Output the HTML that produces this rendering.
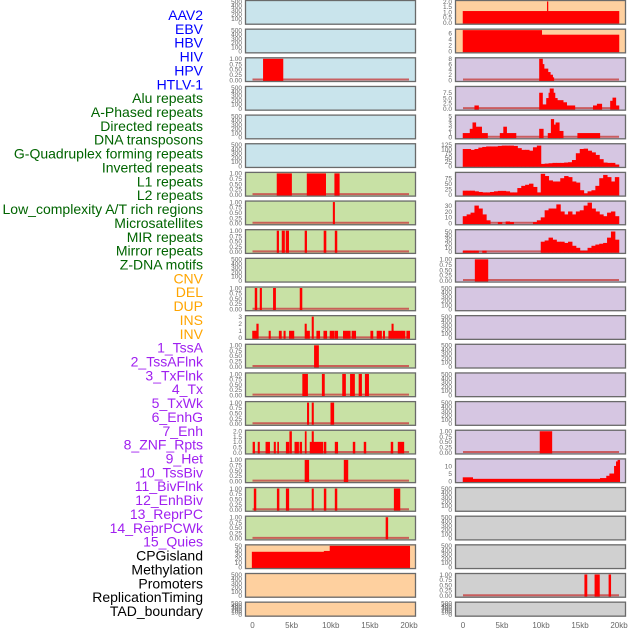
<!DOCTYPE html>
<html><head><meta charset="utf-8"><style>
html,body{margin:0;padding:0;background:#fff;}
svg{display:block;font-family:"Liberation Sans",sans-serif;}
</style></head><body>
<svg id="chart" width="630" height="630" viewBox="0 0 630 630" xmlns="http://www.w3.org/2000/svg"></svg>
<script>
// ---------- labels ----------
const trackLabels = ["AAV2","EBV","HBV","HIV","HPV","HTLV-1","Alu repeats","A-Phased repeats","Directed repeats","DNA transposons","G-Quadruplex forming repeats","Inverted repeats","L1 repeats","L2 repeats","Low_complexity A/T rich regions","Microsatellites","MIR repeats","Mirror repeats","Z-DNA motifs","CNV","DEL","DUP","INS","INV","1_TssA","2_TssAFlnk","3_TxFlnk","4_Tx","5_TxWk","6_EnhG","7_Enh","8_ZNF_Rpts","9_Het","10_TssBiv","11_BivFlnk","12_EnhBiv","13_ReprPC","14_ReprPCWk","15_Quies","CPGisland","Methylation","Promoters","ReplicationTiming","TAD_boundary"];
const labelGroups = [6,13,5,15,5];
const xTickLabels = ["0","5kb","10kb","15kb","20kb"];
const xTickValues = [0,5,10,15,20];

// ---------- data: segments [startKb, endKb, value] ----------
const segHBV = [[1.38,3.9,1]];
const segAlu = [[3.13,5.0,1],[6.97,9.36,1],[10.5,11.1,1]];
const segAPhased = [[10.3,10.5,1]];
const segDirected = [[3.13,3.35,1],[3.77,4.1,1],[4.28,4.63,1],[6.7,6.93,1],[9.13,9.4,1],[10.55,10.8,1]];
const segGQuad = [[0.32,0.57,1],[0.96,1.17,1],[2.66,2.96,1],[6.07,6.33,1]];
const segInverted = [[0,0.32,1],[0.32,0.53,1],[0.53,0.75,2],[2.1,2.3,1],[3.4,3.7,1],[4.0,4.2,1],[4.7,5.3,1],[6.7,6.9,2],[6.9,7.3,1],[7.6,7.8,3],[8.2,8.6,1],[9.1,9.5,1],[9.9,10.4,1],[10.5,10.9,1],[11.6,12.5,1],[12.7,13.2,1],[15.1,15.4,1],[15.9,16.5,1],[16.7,16.9,1],[17.4,17.8,1],[17.8,18.0,2],[18.0,19.1,1],[19.1,19.5,1],[19.7,20.1,1]];
const segL1 = [[7.9,8.45,1]];
const segL2 = [[6.4,7.05,1],[8.9,9.2,1],[11.5,11.9,1],[12.5,13.05,1],[13.6,13.95,1],[14.4,14.85,1]];
const segLowComplex = [[7.0,7.2,1],[7.6,7.8,1],[10.0,10.4,1]];
const segMicro = [[0.05,0.28,1],[0.7,0.9,1],[1.7,2.2,1],[2.75,2.95,1],[3.2,3.35,1],[4.3,4.65,1],[4.75,5.0,2],[5.4,5.9,1],[6.05,6.3,1],[6.72,6.88,2],[7.35,7.6,1],[7.6,7.8,2],[7.8,9.0,1],[9.15,9.4,1],[10.55,10.9,1],[12.85,13.1,1],[14.25,14.5,1],[17.7,17.95,1],[18.6,19.35,1]];
const segMIR = [[6.7,7.2,1],[11.7,12.2,1]];
const segMirror = [[0.2,0.45,1],[3.15,3.4,1],[4.3,4.65,1],[7.6,7.8,1],[9.15,9.4,1],[10.55,10.8,1],[18.1,18.5,1],[18.55,18.85,1]];
const segZDNA = [[17.05,17.3,1]];
const segCNV = [[-0.05,9.15,36],[9.15,9.9,38],[9.9,20.1,50]];
const segINS = [[0,20,1.1],[10.8,10.9,2]];
const segINV = [[0,10.1,7],[10.1,20,5.5]];
const segTssA = [[9.8,10.2,8],[10.2,10.4,6],[10.4,10.9,4.3],[10.9,11.2,3],[11.2,11.5,2],[11.5,11.65,1]];
const segTssAFlnk = [[1.5,2.0,1.5],[9.8,10.2,7.5],[10.2,10.7,2],[10.7,11.0,5],[11.0,11.15,7.5],[11.15,11.6,9.5],[11.6,11.8,7.5],[11.8,12.1,5],[12.1,12.85,4],[12.85,13.3,3],[13.3,14.35,1.5],[16.7,17.2,1.5],[17.2,17.8,2.3],[18.9,19.2,3.7],[19.2,19.6,5.2],[19.6,20,1.5]];
const segTxFlnk = [[0,0.9,1],[0.9,1.25,2],[1.25,1.65,3.5],[1.65,2.4,2.5],[2.4,3.15,1],[4.75,5.2,1],[5.2,5.6,2.5],[5.6,6.8,1],[9.8,10.3,2],[10.9,11.3,1],[11.3,11.65,4.3],[11.65,11.9,3],[11.9,12.35,3.5],[12.35,12.85,1.5],[14.7,17.55,1]];
const segZNF = [[1.55,3.2,1]];
const segTssBiv = [[9.87,11.4,1]];
const segBivFlnk = [[0,1.25,2.5],[1.25,17.6,1.5],[17.6,18.4,2],[18.4,18.8,3.5],[18.8,19.4,5],[19.4,19.65,10],[19.65,19.85,13],[19.85,20.1,14]];
const segReplication = [[15.6,15.9,1],[16.9,17.5,1],[18.7,18.95,1]];

// ---------- data: 40 bins of 0.5 kb ----------
const binsTx = [100,100,95,100,108,112,115,115,115,118,120,120,120,118,105,95,95,90,110,120,12,14,16,18,18,18,20,22,35,75,100,102,90,80,65,40,20,18,18,8];
const binsTxWk = [18,18,18,15,12,10,10,12,15,17,17,15,10,10,30,40,45,50,35,10,95,85,65,60,60,75,85,80,60,55,20,5,15,20,40,75,90,80,60,80];
const binsEnhG = [12,15,18,30,25,15,5,0,0,2,0,3,2,0,0,0,0,0,2,5,10,22,25,25,32,20,15,20,15,20,22,30,35,25,20,15,12,18,20,12];
const binsEnh = [3,3,3,3,0,3,0,0,0,0,0,0,0,0,0,0,0,0,0,0,25,28,35,30,25,25,22,25,15,10,3,3,10,15,18,20,22,35,50,30];

// ---------- panels ----------
const BLUE="#c9e4ec",GREEN="#c8e1a5",ORANGE="#fed09f",PURPLE="#d6c6e2",GRAY="#d0d0d0";
const T500=[0,100,200,300,400,500], T1=[0,0.25,0.5,0.75,1];
const panels = [
 {c:0,r:0,bg:BLUE,ticks:T500,max:500},{c:0,r:1,bg:BLUE,ticks:T500,max:500},
 {c:0,r:2,bg:BLUE,ticks:T1,max:1,seg:segHBV},
 {c:0,r:3,bg:BLUE,ticks:T500,max:500},{c:0,r:4,bg:BLUE,ticks:T500,max:500},{c:0,r:5,bg:BLUE,ticks:T500,max:500},
 {c:0,r:6,bg:GREEN,ticks:T1,max:1,seg:segAlu},
 {c:0,r:7,bg:GREEN,ticks:T1,max:1,seg:segAPhased},
 {c:0,r:8,bg:GREEN,ticks:T1,max:1,seg:segDirected},
 {c:0,r:9,bg:GREEN,ticks:T500,max:500},
 {c:0,r:10,bg:GREEN,ticks:T1,max:1,seg:segGQuad},
 {c:0,r:11,bg:GREEN,ticks:[0,1,2,3],max:3,seg:segInverted},
 {c:0,r:12,bg:GREEN,ticks:T1,max:1,seg:segL1},
 {c:0,r:13,bg:GREEN,ticks:T1,max:1,seg:segL2},
 {c:0,r:14,bg:GREEN,ticks:T1,max:1,seg:segLowComplex},
 {c:0,r:15,bg:GREEN,ticks:[0,0.5,1,1.5,2],max:2,seg:segMicro,fmt:1},
 {c:0,r:16,bg:GREEN,ticks:T1,max:1,seg:segMIR},
 {c:0,r:17,bg:GREEN,ticks:T1,max:1,seg:segMirror},
 {c:0,r:18,bg:GREEN,ticks:T1,max:1,seg:segZDNA},
 {c:0,r:19,bg:ORANGE,ticks:[0,10,20,30,40,50],max:50,seg:segCNV,nobase:true},
 {c:0,r:20,bg:ORANGE,ticks:T500,max:500},{c:0,r:21,bg:ORANGE,ticks:T500,max:500},
 {c:1,r:0,bg:ORANGE,ticks:[0,0.5,1,1.5,2],max:2,seg:segINS,fmt:1,nobase:true},
 {c:1,r:1,bg:ORANGE,ticks:[0,2,4,6],max:7,seg:segINV,nobase:true},
 {c:1,r:2,bg:PURPLE,ticks:[0,2,4,6,8],max:8,seg:segTssA},
 {c:1,r:3,bg:PURPLE,ticks:[0,2.5,5,7.5],max:10,seg:segTssAFlnk,fmt:1},
 {c:1,r:4,bg:PURPLE,ticks:[0,1,2,3,4,5],max:5,seg:segTxFlnk},
 {c:1,r:5,bg:PURPLE,ticks:[0,25,50,75,100,125],max:125,bins:binsTx},
 {c:1,r:6,bg:PURPLE,ticks:[0,25,50,75],max:97,bins:binsTxWk},
 {c:1,r:7,bg:PURPLE,ticks:[0,10,20,30],max:36,bins:binsEnhG},
 {c:1,r:8,bg:PURPLE,ticks:[0,10,20,30,40,50],max:52,bins:binsEnh},
 {c:1,r:9,bg:PURPLE,ticks:T1,max:1,seg:segZNF},
 {c:1,r:10,bg:PURPLE,ticks:T500,max:500},{c:1,r:11,bg:PURPLE,ticks:T500,max:500},{c:1,r:12,bg:PURPLE,ticks:T500,max:500},
 {c:1,r:13,bg:PURPLE,ticks:T500,max:500},{c:1,r:14,bg:PURPLE,ticks:T500,max:500},
 {c:1,r:15,bg:PURPLE,ticks:T1,max:1,seg:segTssBiv},
 {c:1,r:16,bg:PURPLE,ticks:[0,5,10],max:14,seg:segBivFlnk},
 {c:1,r:17,bg:GRAY,ticks:T500,max:500},{c:1,r:18,bg:GRAY,ticks:T500,max:500},{c:1,r:19,bg:GRAY,ticks:T500,max:500},
 {c:1,r:20,bg:GRAY,ticks:T1,max:1,seg:segReplication},
 {c:1,r:21,bg:GRAY,ticks:T500,max:500}
];

// ---------- drawing ----------
const NS="http://www.w3.org/2000/svg";
const svg=document.getElementById('chart');
function mk(tag,attrs,parent){const e=document.createElementNS(NS,tag);for(const k in attrs)e.setAttribute(k,attrs[k]);(parent||svg).appendChild(e);return e;}
function xScale(col,kb){return col===0?252.5+kb*7.825:463+kb*7.8;}
const colLeft=[245,455], colRight=[416,626];
function rowTop(r){return r*28.65;}
function rowH(r){return r===21?15:24.7;}

// labels
const labelColors=["#0000ff","#006400","#ffa500","#a020f0","#000000"];
let li=0;
labelGroups.forEach((n,g)=>{for(let k=0;k<n;k++){
  const t=mk('text',{x:203,y:15+li*13.86+5,'text-anchor':'end','font-size':14,fill:labelColors[g]});
  t.textContent=trackLabels[li];
  
  
  li++;}});

panels.forEach((p,idx)=>{
  const g=mk('g',{});
  
  
  const x0=colLeft[p.c],x1=colRight[p.c],top=rowTop(p.r),h=rowH(p.r);
  const bg=mk('rect',{x:x0,y:top,width:x1-x0,height:h,fill:p.bg},g);
  
  
  const yb=top+h-2, yt=top+1.5;
  const yScale=v=>yb-(v/p.max)*(yb-yt);
  const hasData=!!(p.seg||p.bins);
  if(hasData&&!p.nobase){
    const bl=mk('line',{x1:xScale(p.c,0),x2:xScale(p.c,20),y1:yb-0.5,y2:yb-0.5,stroke:'#c84a4a','stroke-width':2,opacity:0.85},g);
    
    
  }
  const drawBar=(a,b,v)=>{
    const xa=xScale(p.c,a),xb=xScale(p.c,b),y=yScale(v);
    const r=mk('rect',{x:xa-0.25,y:y,width:Math.max(0.8,xb-xa+0.5),height:yb-y+1,fill:'#ff0000'},g);
    
    
  };
  if(p.seg)p.seg.forEach(s=>drawBar(s[0],s[1],s[2]));
  if(p.bins)p.bins.forEach((v,i)=>{if(v>0)drawBar(i*0.5,i*0.5+0.5,v);});
  const br=mk('rect',{x:x0+0.5,y:top+0.5,width:x1-x0-1,height:h-1,fill:'none',stroke:'#6a6a6a','stroke-width':1.3},g);
  
  
  p.ticks.forEach(tv=>{
    const t=mk('text',{x:x0-3,y:yScale(tv)+2.3,'text-anchor':'end','font-size':6.5,fill:'#666'},g);
    t.textContent=p.fmt?tv.toFixed(1):(p.ticks===T1?tv.toFixed(2):String(tv));
    
    
  });
});

// x axes
[0,1].forEach(c=>{xTickValues.forEach((v,i)=>{
  const t=mk('text',{x:xScale(c,v),y:628,'text-anchor':'middle','font-size':8,fill:'#666'});
  t.textContent=xTickLabels[i];
  
  
});});
</script>
</body></html>
